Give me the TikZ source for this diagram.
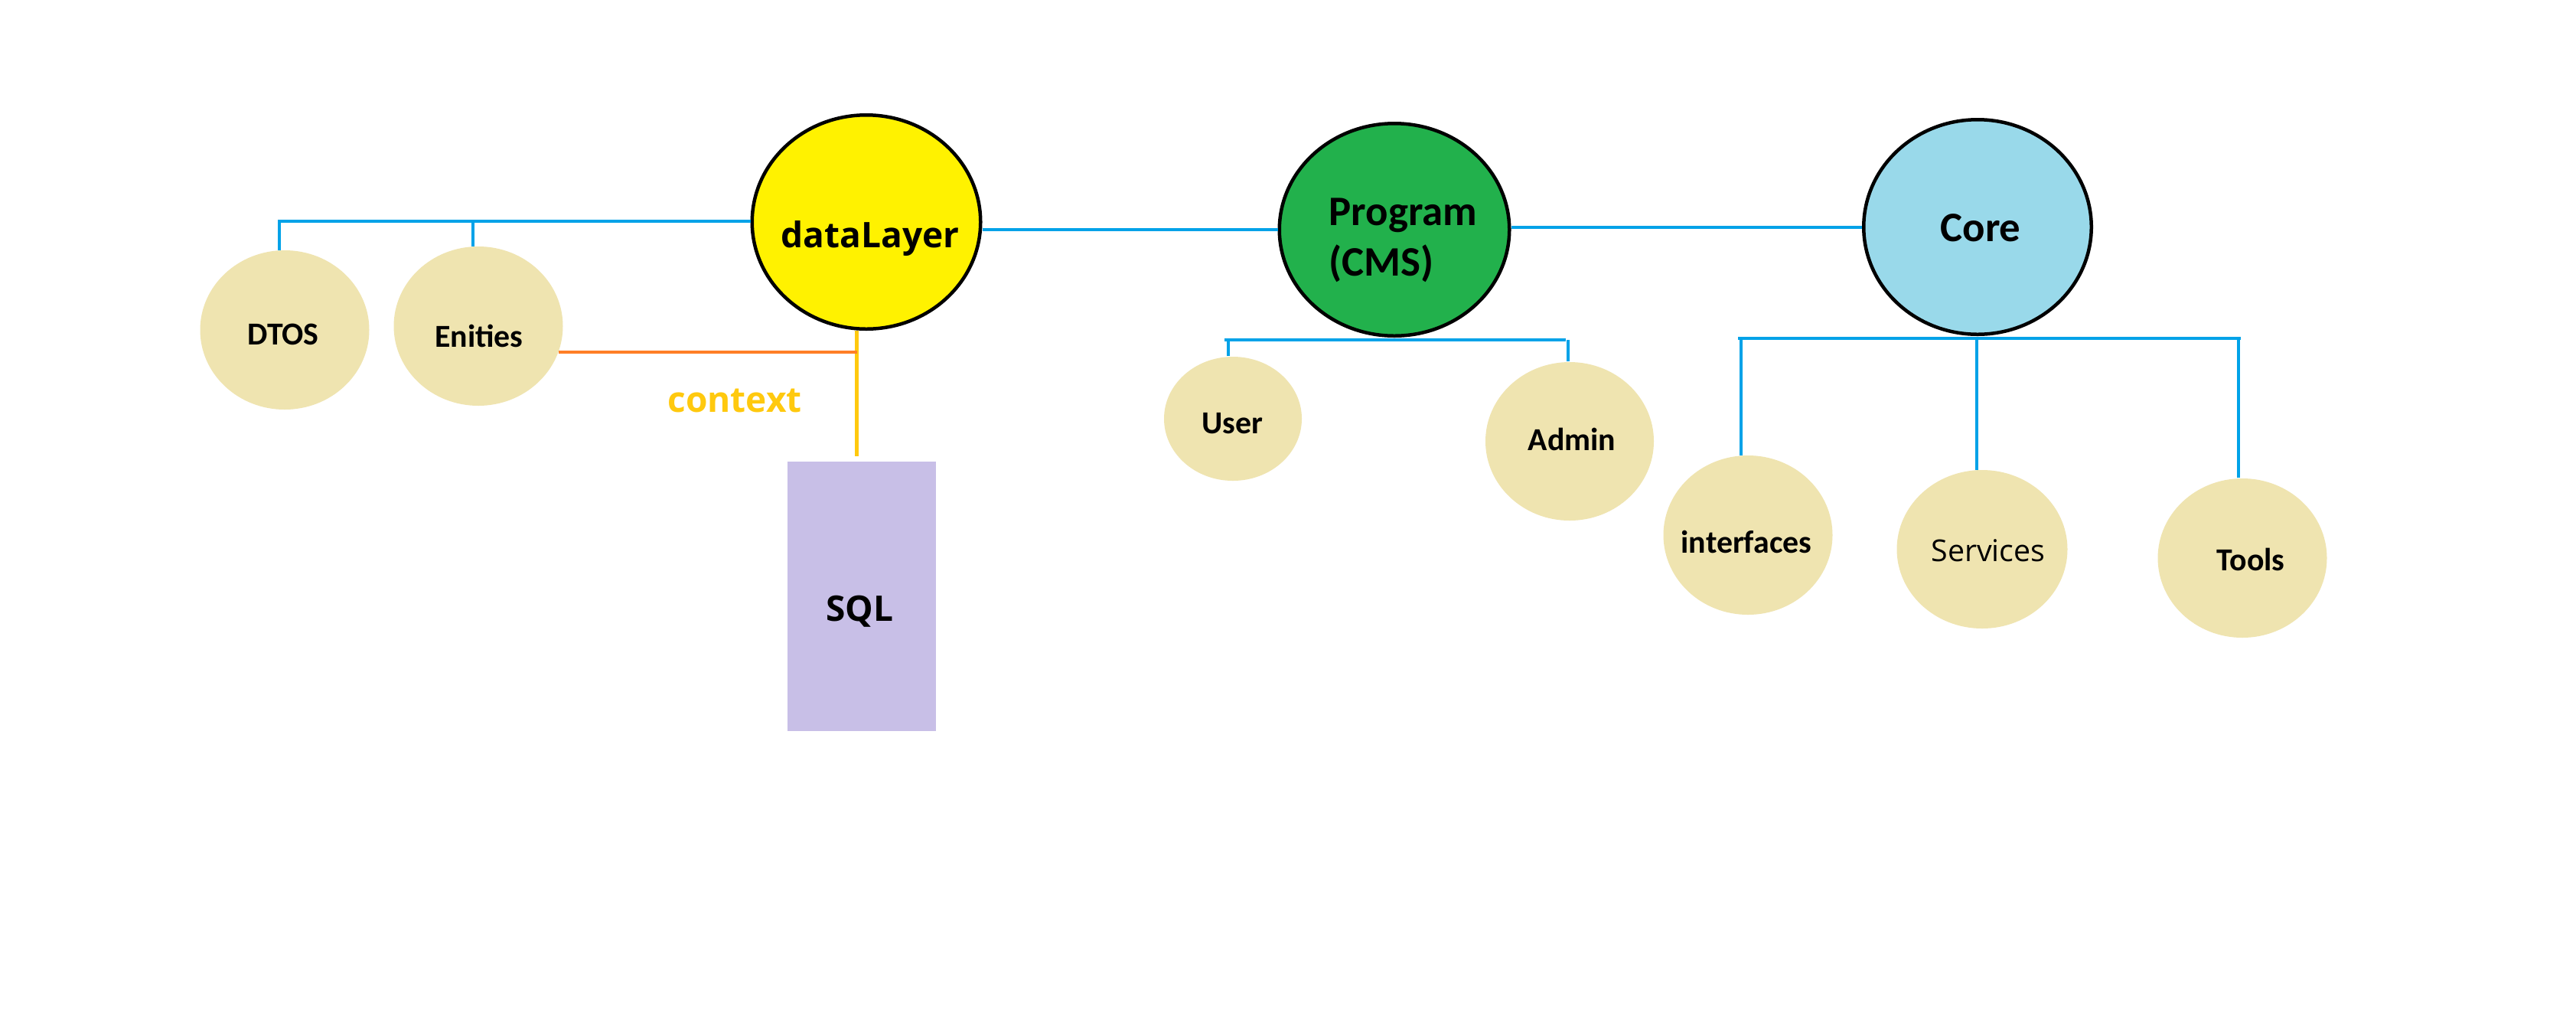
\documentclass[tikz,border=0pt]{standalone}
\usepackage{fontspec}
\setmainfont{Carlito}
\newfontfamily\osans{Open Sans}
\usetikzlibrary{shapes.geometric}
\definecolor{ylwfill}{HTML}{FFF200}
\definecolor{grnfill}{HTML}{22B14C}
\definecolor{lbluefill}{HTML}{99D9EA}
\definecolor{tanfill}{HTML}{EFE4B0}
\definecolor{lavfill}{HTML}{C8BFE7}
\definecolor{lineblue}{HTML}{00A2E8}
\definecolor{orngline}{HTML}{FF7F27}
\definecolor{goldline}{HTML}{FFC90E}
\tikzset{
  mainell/.style={ellipse, draw=black, line width=0.045cm, inner sep=0pt},
  subell/.style={ellipse, fill=tanfill, draw=none, inner sep=0pt, minimum width=2.21cm, minimum height=2.08cm},
  bigtxt/.style={font=\bfseries\fontsize{15.6}{18}\selectfont, inner sep=0pt, anchor=base},
  smalltxt/.style={font=\bfseries\fontsize{11.9}{14}\selectfont, inner sep=0pt, anchor=base},
  ostxt/.style={font=\osans\bfseries\fontsize{13.1}{15}\selectfont, inner sep=0pt, anchor=base},
  bus/.style={draw=lineblue, line width=0.04cm},
  oline/.style={draw=orngline, line width=0.035cm},
  yline/.style={draw=goldline, line width=0.05cm}
}
\begin{document}
\begin{tikzpicture}
\fill[white] (0,0) rectangle (33.66,-13.21);
\useasboundingbox (0,0) rectangle (33.66,-13.21);

% main ellipses
\node[mainell, fill=ylwfill, minimum width=2.985cm, minimum height=2.795cm] (dl) at (11.32,-2.90) {};
\node[mainell, fill=grnfill, minimum width=3.005cm, minimum height=2.775cm] (prog) at (18.22,-3.00) {};
\node[mainell, fill=lbluefill, minimum width=2.975cm, minimum height=2.805cm] (core) at (25.84,-2.965) {};

% sub ellipses
\node[subell] (dtos) at (3.72,-4.31) {};
\node[subell] (ent) at (6.25,-4.26) {};
\node[subell, minimum width=1.80cm, minimum height=1.62cm] (user) at (16.11,-5.47) {};
\node[subell, minimum width=2.20cm, minimum height=2.07cm] (admin) at (20.51,-5.765) {};
\node[subell] (intf) at (22.84,-6.99) {};
\node[subell, minimum width=2.23cm, minimum height=2.07cm] (serv) at (25.90,-7.175) {};
\node[subell] (tools) at (29.30,-7.29) {};

% SQL box
\node[rectangle, fill=lavfill, draw=none, minimum width=1.94cm, minimum height=3.52cm, inner sep=0pt] (sql) at (11.26,-7.79) {};

% texts
\node[ostxt] (dlt) at (11.37,-3.23) {dataLayer};
\node[bigtxt, anchor=base west] (progt) at (17.36,-2.94) {Program};
\node[bigtxt, anchor=base west] (cmst) at (17.36,-3.60) {(CMS)};
\node[bigtxt] (coret) at (25.88,-3.15) {Core};
\node[smalltxt] (dtost) at (3.70,-4.50) {DTOS};
\node[smalltxt] (entt) at (6.26,-4.53) {Enities};
\node[smalltxt] (usert) at (16.10,-5.66) {User};
\node[smalltxt] (admint) at (20.54,-5.88) {Admin};
\node[smalltxt] (intft) at (22.82,-7.22) {interfaces};
\node[font=\osans\fontsize{11.2}{13}\selectfont, inner sep=0pt, anchor=base] (servt) at (25.98,-7.33) {Services};
\node[smalltxt] (toolst) at (29.41,-7.45) {Tools};
\node[ostxt] (sqlt) at (11.235,-8.11) {SQL};
\node[ostxt, text=goldline] (ctx) at (9.60,-5.38) {context};

% left bus
\coordinate (busL) at (3.63,-2.89);
\draw[bus] (busL) -- (dl.west |- busL);
\draw[bus] (dtos.94) -- (dtos.94 |- busL);
\draw[bus] (ent.94) -- (ent.94 |- busL);

% main chain
\draw[bus] (dl.east |- prog.west) -- (prog.west);
\draw[bus] (prog.east |- core.west) -- (core.west);

% program bus
\coordinate (pbusL) at (16.00,-4.44);
\coordinate (pbusR) at (20.46,-4.44);
\draw[bus] (pbusL) -- (pbusR);
\draw[bus] (user.94) -- (user.94 |- pbusL);
\draw[bus] (admin.91.5) -- (admin.91.5 |- pbusL);

% core bus
\coordinate (cbusL) at (22.71,-4.42);
\coordinate (cbusR) at (29.28,-4.42);
\draw[bus] (cbusL) -- (cbusR);
\draw[bus] (intf.95) -- (intf.95 |- cbusL);
\draw[bus] (serv.94) -- (serv.94 |- cbusL);
\draw[bus] (tools.93) -- (tools.93 |- cbusL);

% context lines
\draw[yline] (dl.-95.5) -- ([yshift=0.06cm]dl.-95.5 |- sql.north);
\draw[oline] (ent.-18) -- (ent.-18 -| dl.-95.5);
\end{tikzpicture}
\end{document}
